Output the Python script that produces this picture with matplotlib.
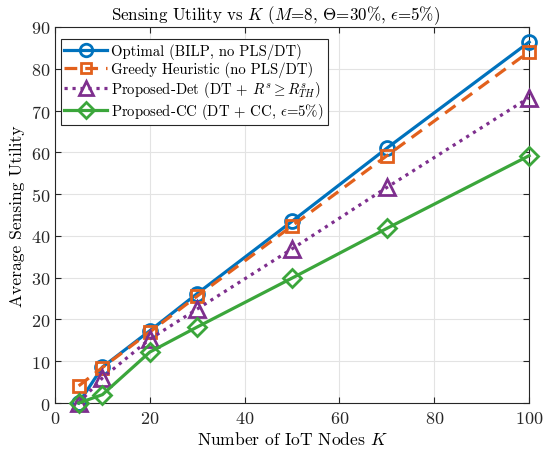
import matplotlib
matplotlib.use("Agg")
import matplotlib.pyplot as plt

plt.rcParams['font.family'] = 'serif'
plt.rcParams['font.serif'] = ['cmr10']
plt.rcParams['mathtext.fontset'] = 'cm'
plt.rcParams['axes.formatter.use_mathtext'] = True

K = [5, 10, 20, 30, 50, 70, 100]
optimal = [0.0, 8.6, 17.3, 26.2, 43.5, 61.0, 86.4]
greedy = [4.1, 8.5, 17.0, 25.6, 42.4, 59.2, 84.1]
det = [0.0, 6.0, 15.3, 22.5, 36.9, 51.6, 73.1]
cc = [0.0, 2.0, 12.2, 18.2, 29.9, 41.8, 59.2]

labels = [
    r'Optimal (BILP, no PLS/DT)',
    r'Greedy Heuristic (no PLS/DT)',
    r'Proposed-Det (DT + $R^s \geq R^s_{TH}$)',
    r'Proposed-CC (DT + CC, $\epsilon$=5%)',
]
colors = ['#0072BD', '#E2601C', '#7E2F8E', '#3BA63B']
markers = ['o', 's', '^', 'D']
styles = ['-', (0, (4, 2.5)), (0, (1, 1.5)), '-']
msizes = [10, 8.5, 11, 9]

fig = plt.figure(figsize=(5.5, 4.56), dpi=100)
ax = fig.add_axes([0.1, 0.114, 0.862, 0.8246])

for y, lab, c, m, ls, ms in zip([optimal, greedy, det, cc], labels, colors, markers, styles, msizes):
    ax.plot(K, y, linestyle=ls, color=c, lw=2.3, marker=m, ms=ms,
            mfc='none', mec=c, mew=2.0, label=lab, clip_on=False, zorder=3)

ax.set_xlim(0, 100)
ax.set_ylim(0, 90)
ax.set_xticks(range(0, 101, 20))
ax.set_yticks(range(0, 91, 10))
ax.grid(True, color='#e3e3e3', lw=0.8)
ax.set_axisbelow(True)
ax.tick_params(direction='in', top=True, right=True, labelsize=13, colors='#262626', length=4)
ax.tick_params(axis='x', pad=5)
for s in ax.spines.values():
    s.set_color('#262626')
    s.set_linewidth(0.8)

ax.set_xlabel(r'Number of IoT Nodes $K$', fontsize=12.6, labelpad=3)
ax.set_ylabel('Average Sensing Utility', fontsize=12.6, labelpad=4)
ax.set_title(r'Sensing Utility vs $K$ ($M$=8, $\Theta$=30%, $\epsilon$=5%)', fontsize=12.2, x=0.464)

leg = ax.legend(loc='upper left', bbox_to_anchor=(0.012, 0.968), fontsize=10.6,
                handlelength=2.9, borderpad=0.25, labelspacing=0.15, handletextpad=0.3,
                fancybox=False, framealpha=1, edgecolor='#262626', borderaxespad=0,
                markerscale=0.9)
leg.get_frame().set_linewidth(0.8)

fig.savefig('out.png', dpi=100)
